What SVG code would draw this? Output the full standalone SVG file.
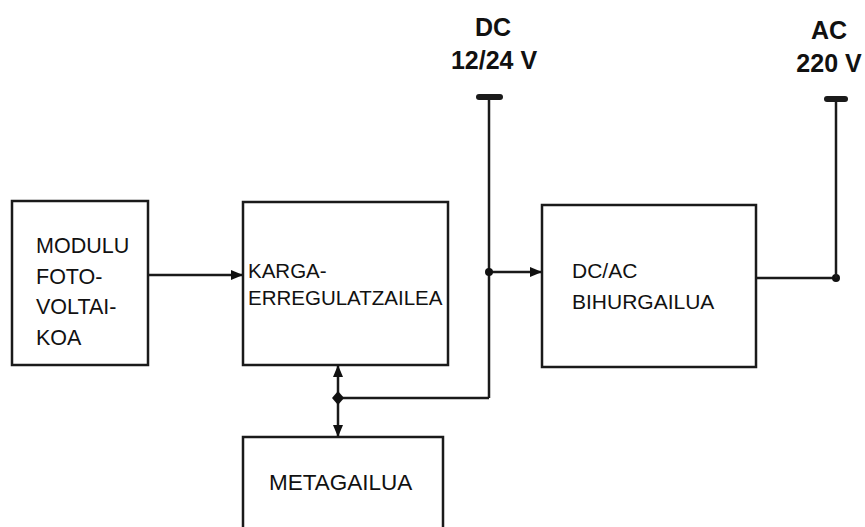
<svg xmlns="http://www.w3.org/2000/svg" width="865" height="527" viewBox="0 0 865 527">
<style>
.box{fill:#fff;stroke:#1a1a1a;stroke-width:2.5}
.ln{fill:none;stroke:#1a1a1a;stroke-width:2.5}
.t{font-family:"Liberation Sans",Arial,sans-serif;font-size:21px;fill:#111}
.b{font-family:"Liberation Sans",Arial,sans-serif;font-size:25px;font-weight:bold;fill:#111;text-anchor:middle}
.dot{fill:#111}
</style>
<defs>
<marker id="ah" markerWidth="12" markerHeight="10" refX="11" refY="5" orient="auto" markerUnits="userSpaceOnUse">
<path d="M0,0 L12,5 L0,10 Z" fill="#111"/>
</marker>
</defs>
<rect width="865" height="527" fill="#fff"/>
<g id="modulu">
<rect class="box" x="12" y="201" width="136" height="164"/>
<text class="t" x="36" y="253" style="font-size:21.5px">MODULU</text>
<text class="t" x="36" y="284" style="font-size:21.5px">FOTO-</text>
<text class="t" x="36" y="314" style="font-size:21.5px">VOLTAI-</text>
<text class="t" x="36" y="345" style="font-size:21.5px">KOA</text>
</g>
<g id="karga">
<rect class="box" x="243" y="202" width="205" height="163"/>
<text class="t" x="248" y="278" style="font-size:20.5px">KARGA-</text>
<text class="t" x="248" y="305" style="font-size:20.5px">ERREGULATZAILEA</text>
</g>
<g id="bihurgailua">
<rect class="box" x="542" y="205" width="214" height="162"/>
<text class="t" x="572" y="278">DC/AC</text>
<text class="t" x="572" y="309">BIHURGAILUA</text>
</g>
<g id="metagailua">
<rect class="box" x="243" y="437" width="200" height="100"/>
<text class="t" x="269" y="490" style="font-size:22.5px">METAGAILUA</text>
</g>
<g id="dc-label">
<text class="b" x="493" y="36">DC</text>
<text class="b" x="494" y="69">12/24 V</text>
</g>
<g id="ac-label">
<text class="b" x="829" y="39">AC</text>
<text class="b" x="829" y="72">220 V</text>
</g>
<g id="connectors">
<line class="ln" x1="148" y1="275" x2="242" y2="275" marker-end="url(#ah)"/>
<line class="ln" x1="489" y1="97" x2="489" y2="398"/>
<line class="ln" x1="479" y1="97" x2="500" y2="97" style="stroke-width:6;stroke-linecap:round"/>
<line class="ln" x1="489" y1="272" x2="541" y2="272" marker-end="url(#ah)"/>
<circle class="dot" cx="489" cy="272" r="4"/>
<line class="ln" x1="489" y1="398" x2="338" y2="398"/>
<line class="ln" x1="338" y1="398" x2="338" y2="366" marker-end="url(#ah)"/>
<line class="ln" x1="338" y1="398" x2="338" y2="436" marker-end="url(#ah)"/>
<path class="dot" d="M338,391 L344,398 L338,405 L332,398 Z"/>
<line class="ln" x1="756" y1="278" x2="836" y2="278"/>
<circle class="dot" cx="836" cy="278" r="4"/>
<line class="ln" x1="836" y1="99" x2="836" y2="278"/>
<line class="ln" x1="827" y1="99" x2="845" y2="99" style="stroke-width:6;stroke-linecap:round"/>
</g>
</svg>
